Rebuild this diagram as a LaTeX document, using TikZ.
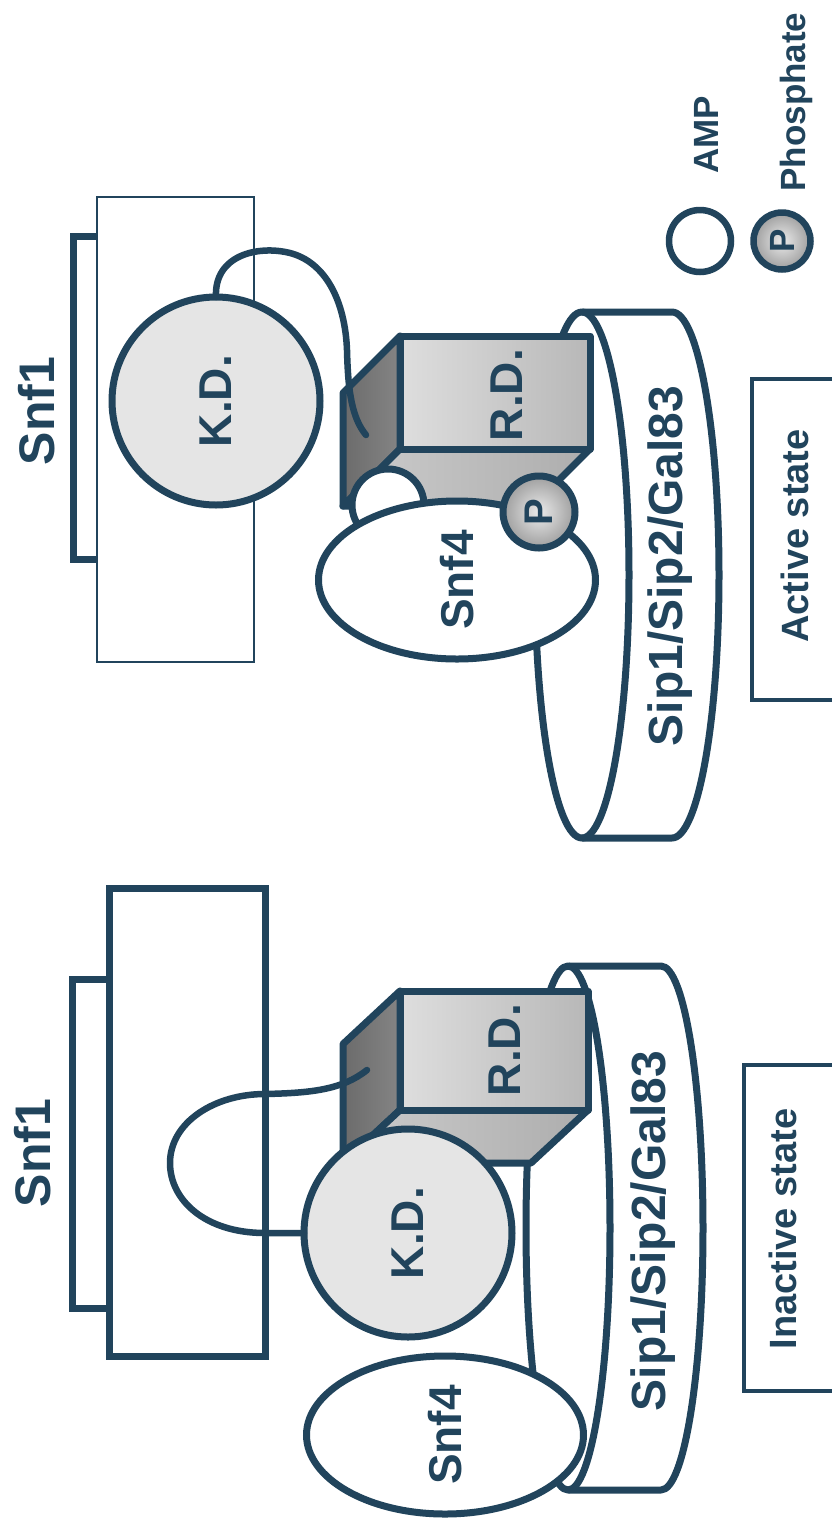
\documentclass[tikz,border=0pt]{standalone}
\usepackage{fontspec}
\setmainfont{Liberation Sans}
\usetikzlibrary{shapes.geometric}
\definecolor{ink}{RGB}{33,68,92}
\newcommand\myfs[1]{\fontsize{#1}{#1}\selectfont}
\begin{document}
\begin{tikzpicture}[x=1pt,y=-1pt,
  ln/.style={draw=ink,line width=7pt},
  thinln/.style={draw=ink,line width=1.6pt},
  boxln/.style={draw=ink,line width=4pt},
  linker/.style={draw=ink,line width=6.5pt,line cap=round},
  kd/.style={circle,ln,fill=black!10,minimum size=208pt,inner sep=0pt,outer sep=0pt},
  snf/.style={ellipse,ln,fill=white,minimum width=277pt,minimum height=158pt,inner sep=0pt,outer sep=0pt},
  amp/.style={circle,ln,fill=white,inner sep=0pt,outer sep=0pt},
  pc/.style={circle,ln,inner color=black!8,outer color=black!38,inner sep=0pt,outer sep=0pt},
  lbl/.style={rotate=90,inner sep=0pt,outer sep=0pt,text=ink},
  tbig/.style={lbl,font=\bfseries\myfs{50}},
  tmid/.style={lbl,font=\bfseries\myfs{46}},
  tsip/.style={lbl,font=\bfseries\myfs{48}},
  tstate/.style={lbl,font=\bfseries\myfs{38}},
  tleg/.style={lbl,font=\bfseries\myfs{35}},
  tp/.style={lbl,font=\bfseries\myfs{40}},
  tpl/.style={lbl,font=\bfseries\myfs{35}},
  front/.style={ln,line join=round,left color=black!13,right color=black!28},
  dark/.style={ln,line join=round,left color=black!58,right color=black!48},
  bottom/.style={ln,line join=round,left color=black!20,right color=black!32}
]
\fill[white] (0,0) rectangle (832,1524);
\useasboundingbox (0,0) rectangle (832,1524);

%% ================= ACTIVE STATE (top) =================
\draw[thinln] (97,197) rectangle (254,662);
\draw[ln] (97,236) -- (73,236) -- (73,559) -- (97,559);
\node[kd] (kdA) at (216,401) {};
\node[tmid] (kdAt) at (kdA.center) {K.D.};
% ring
\draw[ln,fill=white,line join=round] (582,312) -- (672,312)
  arc[start angle=-90,end angle=90,x radius=47,y radius=263] -- (582,838)
  arc[start angle=90,end angle=270,x radius=47,y radius=263] -- cycle;
\draw[ln] (582,312) arc[start angle=-90,end angle=90,x radius=47,y radius=263];
% cube
\draw[dark] (400,336) -- (343,393) -- (343,506) -- (400,449) -- cycle;
\draw[bottom] (400,449) -- (590,449) -- (533,506) -- (343,506) -- cycle;
\draw[front] (400,336) rectangle (590,449);
\node[tmid] (rdA) at (507,395) {R.D.};
\coordinate (hookA) at (366,435);
\draw[linker] (kdA.north) .. controls (214,255) and (258,245) .. (290,253)
  .. controls (325,262) and (345,300) .. (347,350)
  .. controls (348,392) and (352,418) .. (hookA);
\node[amp,minimum size=72pt] (ampA) at (388,505) {};
\node[snf] (snfA) at (457,580) {};
\node[tmid] (snfAt) at (snfA.center) {Snf4};
\node[pc,minimum size=72pt] (pA) at (539,512) {};
\node[tp] (pAt) at (pA.center) {P};
\node[tsip] (sipA) at (670,566) {Sip1/Sip2/Gal83};
\node[tbig] (snf1A) at (37,411) {Snf1};
\draw[boxln] (840,379) -- (752,379) -- (752,700) -- (840,700);
\node[tstate] (actA) at (795,536) {Active state};

%% legend
\node[amp,line width=6.5pt,minimum size=62pt] (ampL) at (700,241) {};
\node[pc,line width=6.5pt,minimum size=57pt] (pL) at (782,241) {};
\node[tpl] (pLt) at (pL.center) {P};
\node[tleg] (ampLt) at (706,135) {AMP};
\node[tleg] (phLt) at (796,102) {Phosphate};

%% ================= INACTIVE STATE (bottom) =================
\draw[ln] (109,979) -- (72,979) -- (72,1308) -- (109,1308);
\draw[ln] (109,888) rectangle (265,1356);
% ring
\draw[ln,fill=white,line join=round] (568,966) -- (661,966)
  arc[start angle=-90,end angle=90,x radius=42,y radius=262] -- (568,1490)
  arc[start angle=90,end angle=270,x radius=42,y radius=262] -- cycle;
\draw[ln] (568,966) arc[start angle=-90,end angle=90,x radius=42,y radius=262];
% cube
\draw[dark] (400,991) -- (343,1044) -- (343,1163) -- (400,1110) -- cycle;
\draw[bottom] (400,1110) -- (588,1110) -- (531,1163) -- (343,1163) -- cycle;
\draw[front] (400,991) rectangle (588,1110);
\node[tmid] (rdI) at (505,1050) {R.D.};
\node[kd] (kdI) at (408,1233) {};
\coordinate (hookI) at (367,1070);
\draw[linker] (kdI.west) -- (265,1233)
  .. controls (205,1233) and (170,1200) .. (170,1163)
  .. controls (170,1122) and (215,1094) .. (265,1094)
  .. controls (310,1093) and (342,1090) .. (hookI);
\node[tmid] (kdIt) at (kdI.center) {K.D.};
\node[snf] (snfI) at (445,1435) {};
\node[tmid] (snfIt) at (snfI.center) {Snf4};
\node[tsip] (sipI) at (653,1231) {Sip1/Sip2/Gal83};
\node[tbig] (snf1I) at (33,1153) {Snf1};
\draw[boxln] (840,1065) -- (744,1065) -- (744,1391) -- (840,1391);
\node[tstate] (inI) at (783,1229) {Inactive state};
\end{tikzpicture}
\end{document}
